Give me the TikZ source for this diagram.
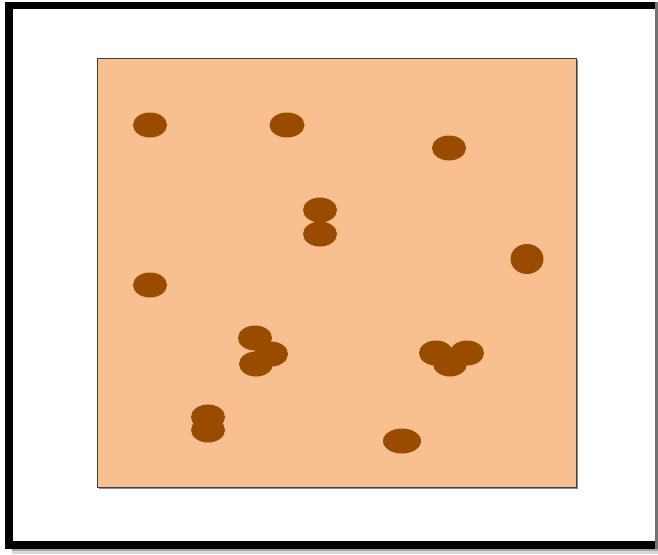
\documentclass[tikz,border=0pt]{standalone}
\begin{document}
\begin{tikzpicture}[x=1pt,y=-1pt,
  dot/.style={fill=dotbrown},
  ]
\definecolor{dotbrown}{RGB}{153,76,0}
\definecolor{peach}{RGB}{248,192,144}
\useasboundingbox (0,0) rectangle (658,554);
\fill[white] (0,0) rectangle (658,554);
% outer frame
\fill[black!35] (12,549) rectangle (658,554);
\fill[black!15] (12,551) rectangle (658,554);
\fill[black] (5,1.5) rectangle (658,9);
\fill[black] (5,1.5) rectangle (12.5,549);
\fill[black] (5,541) rectangle (658,549);
\fill[black!55] (655,1.5) rectangle (658,549);
% inner panel
\fill[black!45] (99,60) rectangle (578,489);
\node[draw=black!75, line width=1.2pt, fill=peach, inner sep=0pt, minimum width=479pt, minimum height=429pt, anchor=north west] (panel) at (97,58) {};
% dots
\foreach \n/\x/\y/\w/\h in {d1/150/125/34/25, d2/287/125/35/25, d3/449/148/34/25, d4/320/210/34/25, d5/320/234/34/25,
  d6/527/259/33/30, d7/150/285/34/25, d8/255/338/34/25, d9/271/354/34/25, d10/256/364/34/25,
  d11/436/353/34/25, d12/467/353/34/25, d13/450/364/34/25, d14/208/417/34/25, d15/208/430/34/25, d16/402/441/38/25}
  \fill[dot] (\x,\y) ellipse [x radius=\w/2, y radius=\h/2];
\end{tikzpicture}
\end{document}
